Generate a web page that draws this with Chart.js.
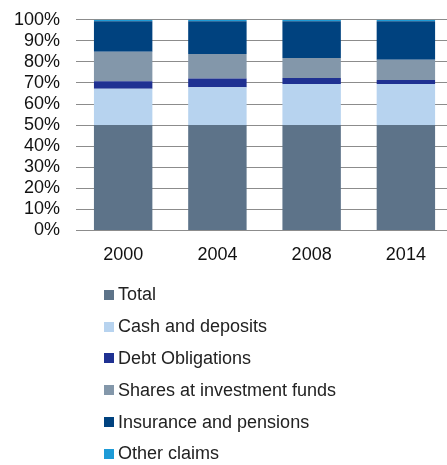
<!DOCTYPE html>
<html>
<head>
<meta charset="utf-8">
<script src="https://cdn.jsdelivr.net/npm/chart.js@4/dist/chart.umd.min.js"></script>
<style>
  html, body { margin: 0; padding: 0; background: #fff; overflow: hidden; }
  #wrap { position: relative; width: 455px; height: 287px; margin: -7px 0 0 -2px; }
  #legend { position: absolute; left: 104px; top: 279px; margin: 0; padding: 0; list-style: none;
            font-family: "Liberation Sans", Arial, sans-serif; font-size: 18px; color: #222; }
  #legend li { height: 31.8px; display: flex; align-items: center; }
  #legend span.box { width: 10px; height: 10px; margin-right: 4px; display: inline-block; }
</style>
</head>
<body>
<div id="wrap"><canvas id="holdings"></canvas></div>
<ul id="legend"></ul>
<script>
// Anys
const years = ['2000', '2004', '2008', '2014'];

// Percentatge de cada component
const total = [50, 50, 50, 50];
const cashDeposits = [17.3, 18, 19.5, 19.5];
const debtObligations = [3.5, 4.1, 2.9, 1.9];
const sharesFunds = [14, 11.7, 9.5, 9.6];
const insurancePensions = [14.5, 15.5, 17.4, 18.3];
const otherClaims = [0.7, 0.7, 0.7, 0.7];

const seriesNames = ['Total', 'Cash and deposits', 'Debt Obligations',
  'Shares at investment funds', 'Insurance and pensions', 'Other claims'];
const seriesValues = [total, cashDeposits, debtObligations, sharesFunds, insurancePensions, otherClaims];
const seriesColors = ['#5d7389', '#b7d3ef', '#1f3192', '#8397aa', '#00427f', '#1e9bd7'];

const tickFont = { family: '"Liberation Sans", Arial, sans-serif', size: 18 };

const ctx = document.getElementById('holdings').getContext('2d');
const chart = new Chart(ctx, {
    type: 'bar',
    data: {
        labels: years,
        datasets: seriesNames.map((nom, i) => ({
            label: nom,
            data: seriesValues[i],
            backgroundColor: seriesColors[i],
            borderWidth: 0
        }))
    },
    options: {
        responsive: true,
        maintainAspectRatio: false,
        animation: false,
        layout: { padding: { left: 0, top: 4, right: 0, bottom: 0 } },
        datasets: { bar: { barPercentage: 0.62, categoryPercentage: 1 } },
        scales: {
            x: {
                stacked: true,
                grid: { display: false, drawTicks: false },
                border: { display: false },
                ticks: { color: '#111', font: tickFont, padding: 14 }
            },
            y: {
                stacked: true,
                min: 0,
                max: 100,
                grid: { color: '#8c8c8c', drawTicks: false },
                border: { display: false },
                ticks: {
                    stepSize: 10,
                    autoSkip: false,
                    color: '#111',
                    font: tickFont,
                    padding: 16,
                    callback: v => v + '%'
                }
            }
        },
        plugins: {
            legend: { display: false },
            tooltip: { enabled: false }
        }
    }
});

// Llegenda vertical a partir dels datasets
const legendList = document.getElementById('legend');
chart.data.datasets.forEach(ds => {
    const li = document.createElement('li');
    const box = document.createElement('span');
    box.className = 'box';
    box.style.background = ds.backgroundColor;
    li.appendChild(box);
    li.appendChild(document.createTextNode(ds.label));
    legendList.appendChild(li);
});
</script>
</body>
</html>
